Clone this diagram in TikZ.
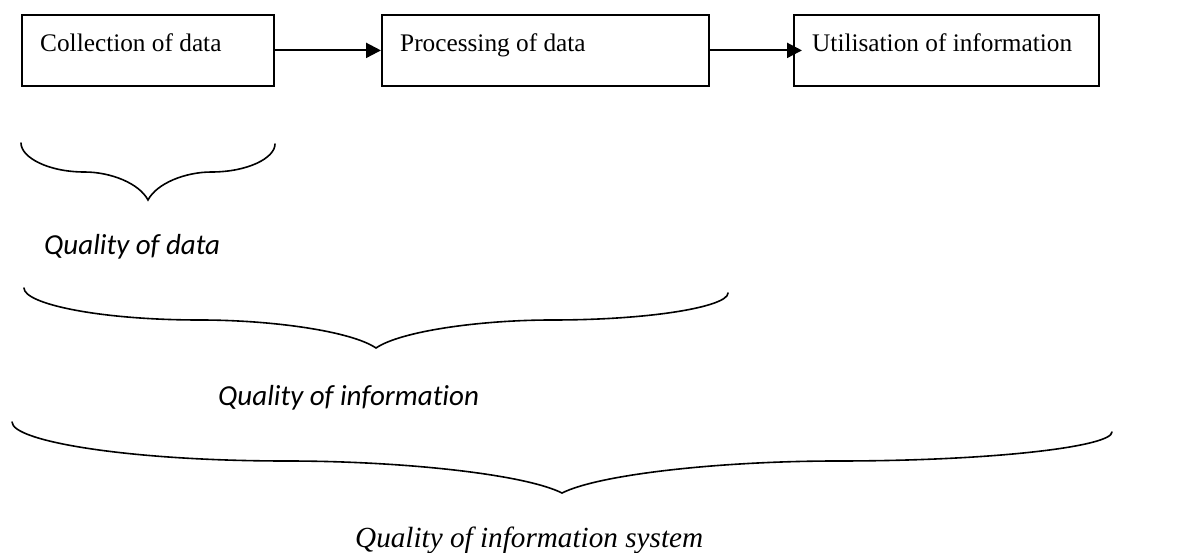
\documentclass[tikz,border=0pt]{standalone}
\usepackage{fontspec}
\setmainfont{Liberation Serif}
\newfontfamily\calibrifont[Ligatures=NoCommon]{Carlito}
\usetikzlibrary{arrows.meta,calc}

\tikzset{
  stagebox/.style={draw, line width=1.8pt, rectangle, inner sep=0pt,
    minimum height=71pt, anchor=north west},
  stagetext/.style={inner sep=0pt, anchor=base west,
    font=\fontsize{25.3}{28}\selectfont},
  flowarrow/.style={line width=2.2pt, -{Triangle[length=15pt,width=15pt]}},
  bracestyle/.style={line width=1.6pt, line cap=round},
  qualitylabel/.style={inner sep=0pt, anchor=base west,
    font=\calibrifont\itshape\fontsize{29}{32}\selectfont},
  systemlabel/.style={inner sep=0pt, anchor=base west,
    font=\itshape\fontsize{29.2}{32}\selectfont}
}

% Curly brace opening upwards: #1,#2 left end, #3,#4 right end,
% #5 level of the flat parts, #6,#7 the tip
\newcommand\wordbrace[7]{%
  \pgfmathsetmacro\wbhalf{(#3-#1)/2}%
  \draw[bracestyle] (#1,#2)
    .. controls (#1,{#2+0.5*(#5-#2)}) and ({#1+0.215*\wbhalf},#5) .. ({#1+0.5*\wbhalf},#5)
    .. controls ({#1+0.705*\wbhalf},#5) and ({#6-0.07*\wbhalf},{#5+0.4*(#7-#5)}) .. (#6,#7)
    .. controls ({#6+0.07*\wbhalf},{#5+0.4*(#7-#5)}) and ({#3-0.705*\wbhalf},#5) .. ({#3-0.5*\wbhalf},#5)
    .. controls ({#3-0.215*\wbhalf},#5) and (#3,{#4+0.5*(#5-#4)}) .. (#3,#4);
}

\begin{document}
\begin{tikzpicture}[x=1pt, y=-1pt]
  \useasboundingbox (0,0) rectangle (1178,553);

  % the three stages
  \node[stagebox, minimum width=252pt] (collect) at (21,14) {};
  \node[stagebox, minimum width=327pt] (process) at (381,14) {};
  \node[stagebox, minimum width=305pt] (utilise) at (793,14) {};

  \node[stagetext] (collecttxt) at ($(collect.north west)+(19,38)$) {Collection of data};
  \node[stagetext] (processtxt) at ($(process.north west)+(19,38)$) {Processing of data};
  \node[stagetext] (utilisetxt) at ($(utilise.north west)+(19,38)$) {Utilisation of information};

  % flow between stages
  \coordinate (utiliseentry) at ($(utilise.west)+(9,0)$);
  \draw[flowarrow] (collect.east) -- (process.west);
  \draw[flowarrow] (process.east) -- (utiliseentry);

  % braces and their labels
  \wordbrace{21}{143}{275}{144}{172}{148}{200}
  \node[qualitylabel] (qdata) at (44,255) {Quality of data};

  \wordbrace{24}{288}{728}{293}{320}{376}{348}
  \node[qualitylabel] (qinfo) at (218,405) {Quality of information};

  \wordbrace{12}{422}{1112}{432}{461}{562}{493}
  \node[systemlabel] (qsystem) at (355,547) {Quality of information system};
\end{tikzpicture}
\end{document}
